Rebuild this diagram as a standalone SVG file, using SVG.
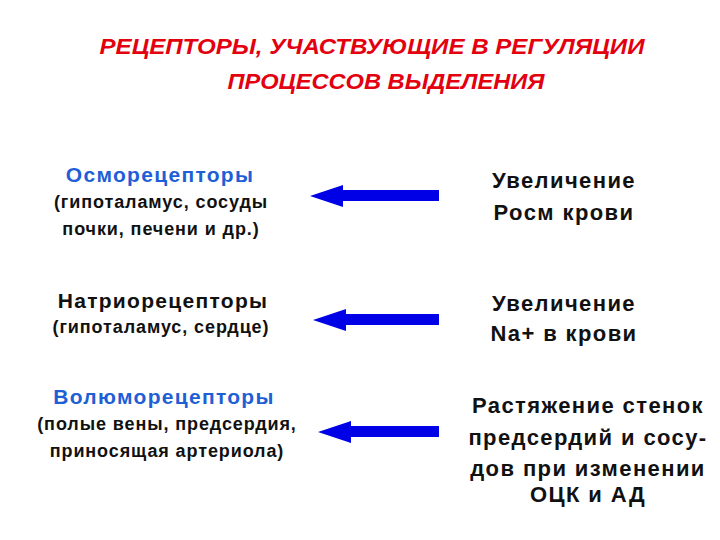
<svg xmlns="http://www.w3.org/2000/svg" width="720" height="540" viewBox="0 0 720 540">
<style>
text{font-family:"Liberation Sans",Arial,sans-serif;font-weight:bold;text-anchor:middle}
.title{fill:#e3000f;font-style:italic;font-size:22px}
.head{font-size:21px;letter-spacing:1.3px}
.blue{fill:#1f5fd6}
.sub{font-size:18px;fill:#111;letter-spacing:0.9px}
.right{font-size:22px;fill:#111;letter-spacing:1.4px}
.arrow{fill:#0000e6}
</style>
<rect width="720" height="540" fill="#fff"/>
<g id="title">
<text class="title" x="372" y="54" textLength="545" lengthAdjust="spacingAndGlyphs">РЕЦЕПТОРЫ, УЧАСТВУЮЩИЕ В РЕГУЛЯЦИИ</text>
<text class="title" x="386" y="89" textLength="317" lengthAdjust="spacingAndGlyphs">ПРОЦЕССОВ ВЫДЕЛЕНИЯ</text>
</g>
<g id="osmo">
<text class="head blue" x="160" y="182">Осморецепторы</text>
<text class="sub" x="161" y="208">(гипоталамус, сосуды</text>
<text class="sub" x="161" y="235">почки, печени и др.)</text>
</g>
<g id="natrio">
<text class="head" x="163" y="308" fill="#111">Натриорецепторы</text>
<text class="sub" x="161" y="333">(гипоталамус, сердце)</text>
</g>
<g id="volumo">
<text class="head blue" x="164" y="404">Волюморецепторы</text>
<text class="sub" x="167" y="430">(полые вены, предсердия,</text>
<text class="sub" x="167" y="457">приносящая артериола)</text>
</g>
<g id="osm-increase">
<text class="right" x="564" y="188">Увеличение</text>
<text class="right" x="564" y="220">Росм крови</text>
</g>
<g id="na-increase">
<text class="right" x="564" y="311">Увеличение</text>
<text class="right" x="564" y="341">Na+ в крови</text>
</g>
<g id="stretch">
<text class="right" x="588" y="413">Растяжение стенок</text>
<text class="right" x="588" y="445">предсердий и сосу-</text>
<text class="right" x="588" y="476">дов при изменении</text>
<text class="right" x="588" y="502">ОЦК и АД</text>
</g>
<g id="connectors">
<polygon class="arrow" points="439,190 343,190 343,185 310,196 343,207 343,201 439,201"/>
<polygon class="arrow" points="439,314 346,314 346,309 313,320 346,331 346,325 439,325"/>
<polygon class="arrow" points="439,426 351,426 351,421 318,432 351,443 351,437 439,437"/>
</g>
</svg>
